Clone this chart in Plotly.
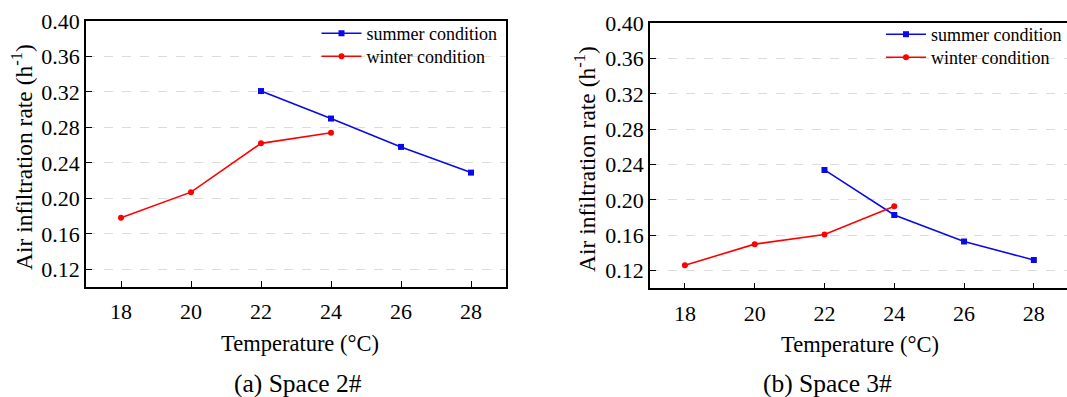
import plotly.graph_objects as go

temps_summer = [22, 24, 26, 28]
temps_winter = [18, 20, 22, 24]
space2_summer = [0.321, 0.290, 0.258, 0.229]
space2_winter = [0.178, 0.207, 0.262, 0.274]
space3_summer = [0.234, 0.183, 0.153, 0.132]
space3_winter = [0.126, 0.150, 0.161, 0.193]
x_ticks = [18, 20, 22, 24, 26, 28]
y_ticks = [0.12, 0.16, 0.20, 0.24, 0.28, 0.32, 0.36, 0.40]

W, H = 1067, 397
FONT = "'Liberation Serif', 'Times New Roman', 'DejaVu Serif', serif"
BLUE = "#0a0ae6"
RED = "#ff0000"

def px(x):
    return x / W

def py(y):
    return 1 - y / H

fig = go.Figure()

def add_pair(xa, ya, leg_s, leg_w, s_vals, w_vals):
    fig.add_trace(go.Scatter(x=temps_summer, y=s_vals, mode="lines+markers",
                             name="summer condition", xaxis=xa, yaxis=ya, legend=leg_s,
                             line=dict(color=BLUE, width=1.6),
                             marker=dict(symbol="square", size=6, color=BLUE)))
    fig.add_trace(go.Scatter(x=temps_winter, y=w_vals, mode="lines+markers",
                             name="winter condition", xaxis=xa, yaxis=ya, legend=leg_w,
                             line=dict(color=RED, width=1.6),
                             marker=dict(symbol="circle", size=6, color=RED)))

add_pair("x", "y", "legend", "legend2", space2_summer, space2_winter)
add_pair("x2", "y2", "legend3", "legend4", space3_summer, space3_winter)

xcommon = dict(tickvals=x_ticks, ticks="inside", ticklen=6, tickwidth=1.3, tickcolor="black",
               showline=True, linecolor="black", linewidth=1.6, mirror=True,
               showgrid=False, zeroline=False, ticklabelstandoff=4, automargin=False,
               tickfont=dict(family=FONT, size=22, color="black"))
ycommon = dict(tickvals=y_ticks, tickformat=".2f", range=[0.10, 0.40],
               ticks="inside", ticklen=6, tickwidth=1.3, tickcolor="black",
               showline=True, linecolor="black", linewidth=1.6,
               showgrid=True, gridcolor="#dcdcdc", griddash="dash", gridwidth=1.2,
               zeroline=False, ticklabelstandoff=0, automargin=False,
               tickfont=dict(family=FONT, size=22, color="black"))

def leg(xp, yp):
    return dict(x=px(xp), y=py(yp), xanchor="left", yanchor="top",
                bgcolor="rgba(0,0,0,0)", font=dict(family=FONT, size=18, color="black"),
                itemwidth=40)

fig.update_layout(
    width=W, height=H,
    margin=dict(l=0, r=0, t=0, b=0, pad=0, autoexpand=False),
    paper_bgcolor="white", plot_bgcolor="white",
    font=dict(family=FONT, color="black"),
    xaxis=dict(domain=[px(86), px(506)], range=[17, 29], anchor="y", **xcommon),
    yaxis=dict(domain=[py(287), py(21)], anchor="x", mirror=True, **ycommon),
    xaxis2=dict(domain=[px(650), 1.0], range=[17, 28.95], anchor="y2", **xcommon),
    yaxis2=dict(domain=[py(288.3), py(23.3)], anchor="x2", mirror=False, **ycommon),
    legend=leg(316.5, 15),
    legend2=leg(316.5, 38),
    legend3=leg(881, 16),
    legend4=leg(881, 39),
    showlegend=True,
)

ann = [
    dict(text="Temperature (°C)", x=px(300), y=py(343), size=22.5, angle=0),
    dict(text="Temperature (°C)", x=px(860), y=py(344), size=22.5, angle=0),
    dict(text="Air infiltration rate (h<sup>-1</sup>)", x=px(22), y=py(157), size=23.5, angle=-90),
    dict(text="Air infiltration rate (h<sup>-1</sup>)", x=px(585), y=py(159), size=23.5, angle=-90),
    dict(text="(a) Space 2#", x=px(298), y=py(383), size=25.5, angle=0),
    dict(text="(b) Space 3#", x=px(827), y=py(383), size=25.5, angle=0),
]
for a in ann:
    fig.add_annotation(text=a["text"], x=a["x"], y=a["y"], xref="paper", yref="paper",
                       xanchor="center", yanchor="middle", showarrow=False,
                       textangle=a["angle"], font=dict(family=FONT, size=a["size"], color="black"))

fig.write_html("out.html")
